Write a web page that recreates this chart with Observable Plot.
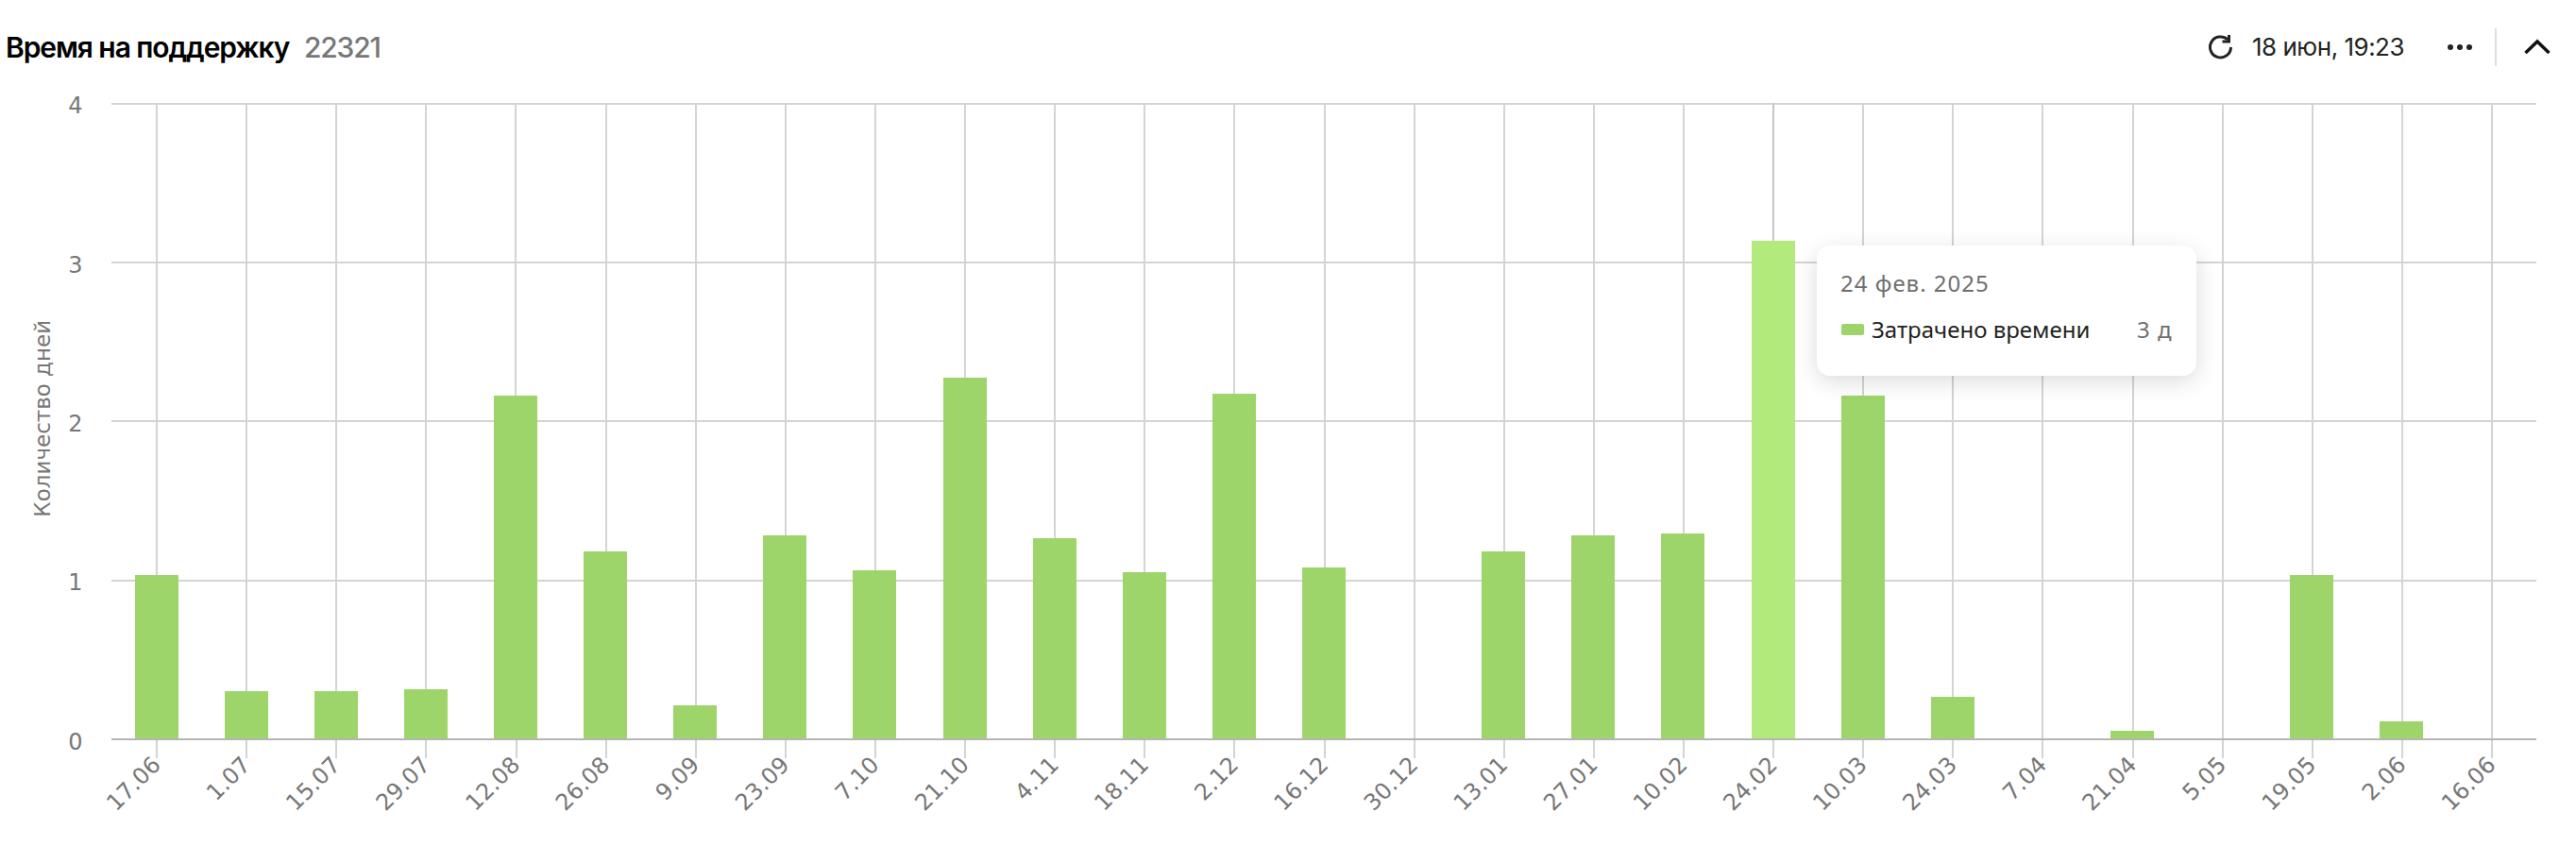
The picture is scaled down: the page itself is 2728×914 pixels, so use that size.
<!DOCTYPE html>
<html><head><meta charset="utf-8">
<script src="https://cdn.jsdelivr.net/npm/d3@7"></script>
<script src="https://cdn.jsdelivr.net/npm/@observablehq/plot@0.6"></script>
<style>
html,body{margin:0;padding:0;background:#fff;overflow:hidden}
#wrap{position:relative;width:2728px;height:914px;font-family:Inter,Roboto,sans-serif}
#head{height:80px;position:relative}
.abs{position:absolute;white-space:nowrap;line-height:1}
#chart svg{display:block}
#chart svg line,#chart svg rect{shape-rendering:crispEdges}
#chart svg path{shape-rendering:crispEdges}
#tip{position:absolute;left:1924px;top:260px;width:402px;height:138px;background:#fff;border-radius:14px;box-shadow:0 6px 24px rgba(0,0,0,.14);font-family:"Noto Sans",sans-serif}
</style></head>
<body>
<div id="wrap">
  <div id="head">
    <div class="abs" id="t1" style="left:6px;top:35px;font-size:30px;font-weight:600;letter-spacing:-1.08px;color:#000"></div>
    <div class="abs" id="t2" style="left:322px;top:35px;font-size:30px;font-weight:500;letter-spacing:-1.2px;color:#777"></div>
    <svg class="abs" style="left:2337px;top:35px" width="30" height="30" viewBox="0 0 30 30" fill="none" stroke="#222" stroke-width="3"><path d="M25.5 15a11 11 0 1 1-3.6-8.2"/><path d="M23.5 2v7h-7" stroke-width="3"/></svg>
    <div class="abs" id="stamp" style="left:2385px;top:37px;font-size:26px;letter-spacing:-.5px;color:#222"></div>
    <svg class="abs" style="left:2589px;top:44px" width="32" height="12"><circle cx="6" cy="6" r="3" fill="#222"/><circle cx="16" cy="6" r="3" fill="#222"/><circle cx="26" cy="6" r="3" fill="#222"/></svg>
    <div class="abs" style="left:2642px;top:30px;width:2px;height:40px;background:#ddd"></div>
    <svg class="abs" style="left:2672px;top:40px" width="30" height="20" fill="none" stroke="#111" stroke-width="3.5"><path d="M2.5 16L15 4l12.5 12"/></svg>
  </div>
  <div id="chart"></div>
  <div id="tip">
    <div class="abs" id="tipDate" style="left:25px;top:28px;font-size:24px;letter-spacing:1px;color:#6f6f6f"></div>
    <div class="abs" style="left:26px;top:83px;width:24px;height:12px;border-radius:2px;background:#9dd56a"></div>
    <div class="abs" id="tipName" style="left:58px;top:77px;font-size:24px;letter-spacing:0;color:#222"></div>
    <div class="abs" id="tipVal" style="left:339px;top:77px;font-size:24px;letter-spacing:1px;color:#6f6f6f"></div>
  </div>
</div>
<script>
const titleText = "Время на поддержку";
const titleId = "22321";
const stampText = "18 июн, 19:23";
const yLabel = "Количество дней";
const dates = ["17.06","1.07","15.07","29.07","12.08","26.08","9.09","23.09","7.10","21.10","4.11","18.11","2.12","16.12","30.12","13.01","27.01","10.02","24.02","10.03","24.03","7.04","21.04","5.05","19.05","2.06","16.06"];
const days = [1.03,0.30,0.30,0.31,2.16,1.18,0.21,1.28,1.06,2.27,1.26,1.05,2.17,1.075,0,1.18,1.28,1.29,3.13,2.16,0.265,0,0.05,0,1.03,0.11,0];
const highlighted = "24.02";
const tipDate = "24 фев. 2025";
const tipName = "Затрачено времени";
const tipVal = "3 д";

t1.textContent = titleText; t2.textContent = titleId; stamp.textContent = stampText;
document.getElementById("tipDate").textContent = tipDate;
document.getElementById("tipName").textContent = tipName;
document.getElementById("tipVal").textContent = tipVal;

const rows = dates.map((d,i)=>({d, v:days[i]}));
const plot = Plot.plot({
  width:2728, height:834,
  marginLeft:118, marginRight:42, marginTop:29, marginBottom:131.5,
  style:{fontFamily:'"DejaVu Sans",sans-serif', background:"transparent"},
  x:{type:"band", domain:dates, paddingInner:.516, paddingOuter:.258, align:.5, round:false, label:null},
  y:{domain:[0,4], label:null},
  marks:[
    Plot.gridY([0,1,2,3,4],{stroke:"#d4d4d4",strokeOpacity:1,strokeWidth:2}),
    Plot.axisX({anchor:"bottom",tickSize:20,tickRotate:-45,tickPadding:3,fontSize:24,stroke:"#d4d4d4",strokeWidth:2,label:null,fill:"#777"}),
    Plot.gridX(dates,{stroke:d=>d===highlighted?"#c6c6c6":"#d4d4d4",strokeOpacity:1,strokeWidth:2}),
    Plot.barY(rows,{x:"d",y:"v",fill:r=>r.d===highlighted?"#b2ea7b":"#9dd56a"}),
    Plot.ruleY([0],{stroke:"#b5b5b5",strokeWidth:2}),
    Plot.axisY([0,1,2,3,4],{anchor:"left",tickSize:0,tickPadding:31,dy:3,fontSize:24,fill:"#777",label:null,tickFormat:d=>d}),
    Plot.text([yLabel],{frameAnchor:"left",dx:-73,dy:-3,rotate:-90,fontSize:23,fill:"#777",textAnchor:"middle"})
  ]
});
document.getElementById("chart").append(plot);
</script>
</body></html>
